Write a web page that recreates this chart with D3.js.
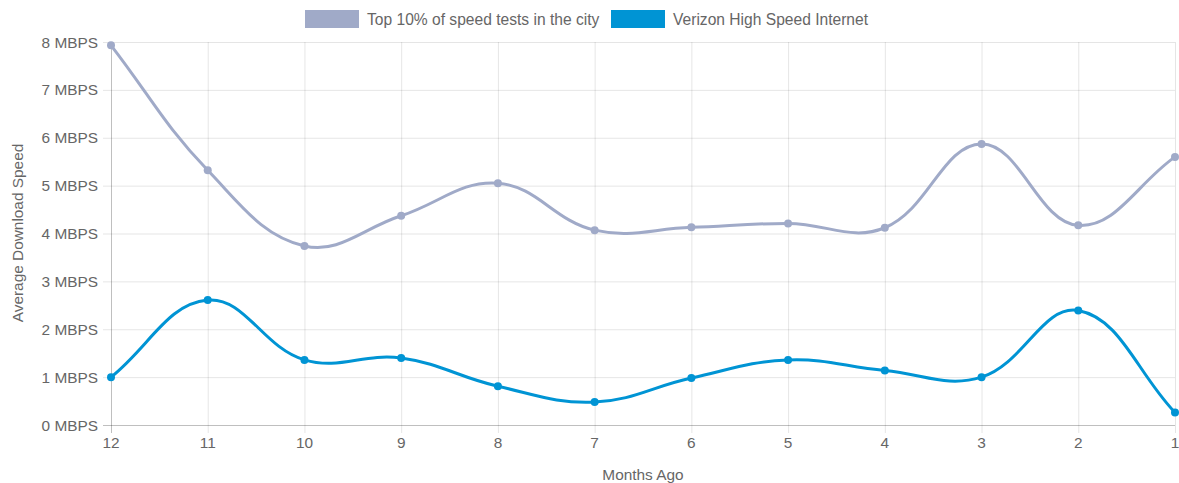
<!DOCTYPE html>
<html><head><meta charset="utf-8">
<script src="https://cdn.jsdelivr.net/npm/d3@7"></script>
<style>
html,body{margin:0;padding:0;background:#fff;}
svg{display:block;font-family:"Liberation Sans",Arial,sans-serif;}
</style></head>
<body><svg id="c" width="1179" height="483"></svg>
<script>
const months = ["12","11","10","9","8","7","6","5","4","3","2","1"];
const topCity = [7.93,5.32,3.74,4.37,5.05,4.07,4.13,4.21,4.12,5.87,4.17,5.6];
const verizon = [1.0,2.61,1.36,1.40,0.81,0.48,0.98,1.36,1.14,1.0,2.39,0.26];
const yTicks = [0,1,2,3,4,5,6,7,8];
const seriesNames = ["Top 10% of speed tests in the city","Verizon High Speed Internet"];
const colors = ["#a0aac8","#0094d4"];

(function(){
const svg = d3.select("#c");
const pl=111, pr=1175, pt=42, pb=425;
const fs = 15.4;
const x = d3.scalePoint().domain(months).range([pl,pr]);
const y = d3.scaleLinear().domain([0,8]).range([pb,pt]);

const g = svg.append("g");
g.selectAll(".hg").data(yTicks).enter().append("line")
 .attr("x1",pl-8).attr("x2",pr).attr("y1",d=>y(d)+0.5).attr("y2",d=>y(d)+0.5)
 .attr("stroke",d=>d===0?"rgba(0,0,0,0.25)":"rgba(0,0,0,0.1)");
g.selectAll(".vg").data(months).enter().append("line")
 .attr("x1",d=>x(d)+0.5).attr("x2",d=>x(d)+0.5).attr("y1",pt).attr("y2",pb+8)
 .attr("stroke",(d,i)=>i===0?"rgba(0,0,0,0.25)":"rgba(0,0,0,0.1)");

g.selectAll(".yl").data(yTicks).enter().append("text")
 .attr("x",98).attr("y",d=>y(d)+5.5).attr("text-anchor","end")
 .attr("font-size",fs).attr("fill","#666").text(d=>d+" MBPS");
g.selectAll(".xl").data(months).enter().append("text")
 .attr("x",d=>x(d)).attr("y",448).attr("text-anchor","middle")
 .attr("font-size",fs).attr("fill","#666").text(d=>d);

svg.append("text").attr("transform","translate(23,233) rotate(-90)")
 .attr("text-anchor","middle").attr("font-size",fs).attr("fill","#666").text("Average Download Speed");
svg.append("text").attr("x",643).attr("y",480).attr("text-anchor","middle")
 .attr("font-size",fs).attr("fill","#666").text("Months Ago");

function splinePath(pts, t){
  const n=pts.length; const cps=[];
  for(let i=0;i<n;i++){
    const p=pts[i], a=pts[Math.max(0,i-1)], b=pts[Math.min(n-1,i+1)];
    const d01=Math.hypot(p[0]-a[0],p[1]-a[1]), d12=Math.hypot(b[0]-p[0],b[1]-p[1]);
    let s01=d01/(d01+d12), s12=d12/(d01+d12);
    if(isNaN(s01))s01=0; if(isNaN(s12))s12=0;
    const fa=t*s01, fb=t*s12;
    cps.push({prev:[p[0]-fa*(b[0]-a[0]),p[1]-fa*(b[1]-a[1])],next:[p[0]+fb*(b[0]-a[0]),p[1]+fb*(b[1]-a[1])]});
  }
  const path=d3.path(); path.moveTo(pts[0][0],pts[0][1]);
  for(let i=1;i<n;i++){
    path.bezierCurveTo(cps[i-1].next[0],cps[i-1].next[1],cps[i].prev[0],cps[i].prev[1],pts[i][0],pts[i][1]);
  }
  return path.toString();
}

[topCity,verizon].forEach((vals,si)=>{
  const pts = vals.map((v,i)=>[x(months[i]),y(v)]);
  svg.append("path").attr("d",splinePath(pts,0.4)).attr("fill","none")
   .attr("stroke",colors[si]).attr("stroke-width",3);
  svg.selectAll(null).data(vals).enter().append("circle")
   .attr("cx",(d,i)=>x(months[i])).attr("cy",d=>y(d)).attr("r",4).attr("fill",colors[si]);
});

const leg=[{x:305,tx:367},{x:611,tx:673}];
seriesNames.forEach((n,i)=>{
  svg.append("rect").attr("x",leg[i].x).attr("y",10).attr("width",54).attr("height",18).attr("fill",colors[i]);
  svg.append("text").attr("x",leg[i].tx).attr("y",24.5).attr("font-size",15.6).attr("fill","#666").text(n);
});
})();
</script></body></html>
